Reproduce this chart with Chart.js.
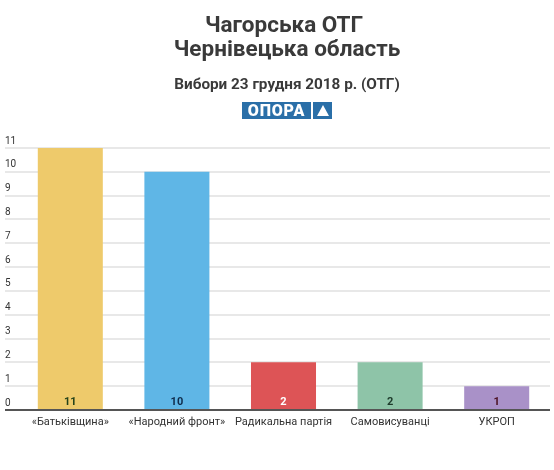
<!DOCTYPE html>
<html>
<head>
<meta charset="utf-8">
<script src="https://cdn.jsdelivr.net/npm/chart.js@4"></script>
<style>
  html, body { margin: 0; padding: 0; background: #fff; }
  body { width: 554px; height: 470px; position: relative; overflow: hidden; font-family: Roboto, sans-serif; }
  #wrap { position: absolute; left: 0; top: 0; width: 554px; height: 470px; }
  .t { position: absolute; left: 10px; width: 554px; text-align: center; color: #3a3a3a; font-weight: bold; white-space: nowrap; }
  #t1 { top: 11px; font-size: 22.5px; line-height: 26px; left: 7px; }
  #t2 { top: 35px; font-size: 22.5px; line-height: 26px; }
  #t3 { top: 74px; font-size: 15.3px; line-height: 20px; }
  #logo { position: absolute; top: 102px; left: 242px; height: 17px; display: flex; gap: 2px; }
  #logo .a { background: #2a6fa8; color: #fff; font: 900 16px/17px Roboto, sans-serif; width: 69px; text-align: center; letter-spacing: 0.8px; }
  #logo .b { background: #2a6fa8; color: #fff; width: 19px; position: relative; }
  #logo .b span { position: absolute; left: 4px; top: 3px; width: 0; height: 0; border-left: 6px solid transparent; border-right: 6px solid transparent; border-bottom: 11px solid #fff; }
</style>
</head>
<body>
<div id="wrap"><canvas id="c" width="554" height="470"></canvas></div>
<div class="t" id="t1">Чагорська ОТГ</div>
<div class="t" id="t2">Чернівецька область</div>
<div class="t" id="t3">Вибори 23 грудня 2018 р. (ОТГ)</div>
<div id="logo"><div class="a">ОПОРА</div><div class="b"><span></span></div></div>
<script>
const categories = ['«Батьківщина»', '«Народний фронт»', 'Радикальна партія', 'Самовисуванці', 'УКРОП'];
const seats = [11, 10, 2, 2, 1];
const barColors = ['#eeca6b', '#5fb6e6', '#dd5456', '#8ec4a8', '#a991c8'];
const labelColors = ['#24421a', '#0f2b4a', '#ffffff', '#1d3a2a', '#4a1020'];
const yTicks = [0, 1, 2, 3, 4, 5, 6, 7, 8, 9, 10, 11];

const valueLabels = {
  id: 'valueLabels',
  afterDatasetsDraw(chart) {
    const ctx = chart.ctx;
    const meta = chart.getDatasetMeta(0);
    ctx.save();
    ctx.font = 'bold 11px Roboto, sans-serif';
    ctx.textAlign = 'center';
    ctx.textBaseline = 'middle';
    meta.data.forEach((bar, i) => {
      ctx.fillStyle = labelColors[i];
      ctx.fillText(String(seats[i]), bar.x, bar.base - 7);
    });
    ctx.restore();
  }
};

new Chart(document.getElementById('c'), {
  type: 'bar',
  data: {
    labels: categories,
    datasets: [{
      data: seats,
      backgroundColor: barColors,
      borderWidth: 0,
      categoryPercentage: 1,
      barPercentage: 0.61
    }]
  },
  options: {
    responsive: false,
    animation: false,
    events: [],
    layout: { padding: { left: 5, right: 4, top: 148, bottom: 0 } },
    plugins: { legend: { display: false }, tooltip: { enabled: false } },
    scales: {
      x: {
        grid: { display: false, drawTicks: false },
        border: { display: false },
        ticks: { color: '#333', font: { family: 'Roboto', size: 11 }, padding: 6, maxRotation: 0, autoSkip: false },
        afterFit(s) { s.height = 60; }
      },
      y: {
        min: 0, max: 11,
        afterBuildTicks(s) { s.ticks = yTicks.map(v => ({ value: v })); },
        afterFit(s) { s.width = 12; },
        border: { display: false },
        grid: {
          drawTicks: true,
          tickLength: 12,
          color: c => c.tick && c.tick.value === 0 ? '#555555' : '#e8e8e8',
          lineWidth: 2
        },
        ticks: {
          crossAlign: 'far',
          padding: 0,
          labelOffset: -7,
          color: '#333',
          font: { family: 'Roboto', size: 10 }
        }
      }
    }
  },
  plugins: [valueLabels]
});
</script>
</body>
</html>
